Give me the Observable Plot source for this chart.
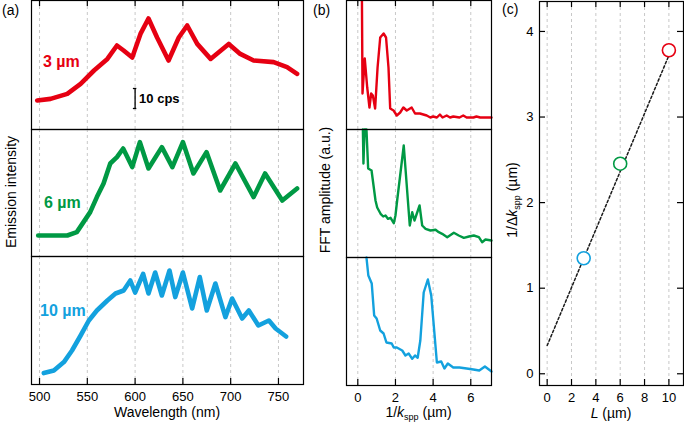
<!DOCTYPE html>
<html><head><meta charset="utf-8">
<script src="https://cdn.jsdelivr.net/npm/d3@7"></script>
<script src="https://cdn.jsdelivr.net/npm/@observablehq/plot@0.6"></script>
<style>
html,body{margin:0;padding:0;background:#fff;}
#chart{position:relative;width:684px;height:424px;overflow:hidden;font-family:"Liberation Sans",Arial,sans-serif;}
</style></head><body><div id="chart"></div>
<script>
// ---------- data: panel (a) emission spectra (cps, offset per panel) ----------
const spec3_wl  = [497.6, 511.5, 529, 543, 557, 571, 581, 588, 597, 605.6, 614, 623, 635, 645.7, 654.5, 665, 679, 698, 710, 724, 745, 759, 769.5];
const spec3_cps = [14.5, 15.3, 17.8, 22.8, 29.5, 35.3, 42, 39.5, 36, 47.8, 55.5, 46, 34.5, 46, 52, 42.8, 35.3, 42.8, 37.8, 34.5, 33.7, 31.2, 27.8];
const spec6_wl  = [498.6, 511, 529, 539, 546, 553, 560, 567, 574, 581, 587.5, 597, 605, 614, 628, 639, 650, 661, 674.7, 689, 705, 724, 736, 754, 769.5];
const spec6_cps = [10.5, 10.5, 10.5, 12.2, 17.2, 22.2, 29.7, 36.5, 46.5, 49.7, 54, 44.7, 57.2, 44, 54.7, 44.7, 57.2, 41.5, 52.2, 33, 46.5, 29.7, 41.5, 28, 34];
const spec10_wl  = [504.5, 515, 525.5, 534, 543, 551.6, 560, 571, 579.5, 588, 595, 600, 608.4, 614, 621, 628, 636, 642, 650, 659.7, 667.7, 675, 684, 694.5, 701.5, 712, 719, 729, 740, 747, 758];
const spec10_cps = [5.7, 7, 11.2, 17, 24.5, 32, 37, 42, 45.5, 47, 52, 46, 55.3, 45.5, 56, 44.5, 57, 43.7, 56, 38, 53.7, 37, 50.5, 33.7, 43, 33, 37, 29.5, 32, 28, 24];
const scaleBar = {x: 600, y0: 10.5, len: 10, label: "10 cps"};

// ---------- data: panel (b) FFT amplitude (a.u.) ----------
const fft3_x = [0.22, 0.25, 0.37, 0.5, 0.62, 0.71, 0.8, 0.92, 1.05, 1.19, 1.37, 1.5, 1.63, 1.72, 1.9, 2.07, 2.25, 2.42, 2.6, 2.86, 3.04, 3.3, 3.66, 3.85, 4.0, 4.2, 4.36, 4.5, 4.72, 4.9, 5.07, 5.4, 5.6, 5.78, 6.14, 6.3, 6.5, 6.95, 7.1];
const fft3_y = [140, 36, 71, 42, 22, 36, 34, 21, 62, 92, 96, 92, 62, 21, 19, 14, 17, 22, 19, 22, 16, 16, 14, 12, 13, 12, 15, 12, 14, 12, 13, 12, 14, 12, 12, 13, 12, 12, 12];
const fft6_x = [0.27, 0.30, 0.36, 0.46, 0.55, 0.73, 0.94, 1.03, 1.21, 1.35, 1.47, 1.6, 1.74, 1.91, 2.0, 2.09, 2.44, 2.66, 2.76, 2.89, 3.01, 3.28, 3.42, 3.6, 3.86, 4.13, 4.3, 4.48, 4.75, 5.1, 5.36, 5.63, 5.9, 6.16, 6.43, 6.6, 6.78, 7.1];
const fft6_y = [135, 94, 135, 135, 89, 87, 57, 50, 43.7, 41, 42, 38.7, 39.7, 34.3, 42, 57, 112, 57, 32, 45.3, 37, 52, 32, 28.7, 27, 27.7, 25.3, 23.7, 20.3, 24.7, 22, 19.7, 21, 22, 20.3, 15.3, 18, 17];
const fft10_x = [0.46, 0.56, 0.74, 0.87, 1.0, 1.19, 1.37, 1.52, 1.8, 1.91, 2.07, 2.36, 2.53, 2.7, 2.89, 3.04, 3.18, 3.32, 3.5, 3.72, 3.9, 4.07, 4.2, 4.43, 4.6, 4.78, 5.07, 5.4, 5.78, 6.14, 6.45, 6.75, 7.1];
const fft10_y = [135, 110, 102, 70, 67, 55, 52, 43, 42, 38, 38, 35, 30, 32, 26.7, 30, 27.7, 45, 93, 106, 90, 52, 23, 24, 17, 22, 18, 18, 17, 16, 15, 19, 14];

// ---------- data: panel (c) ----------
const L_um = [3, 6, 10];
const invDk = [1.35, 2.455, 3.78];
const fit_L = [0, 10];
const fit_y = [0.33, 3.72];

// ---------- ticks ----------
const aTicks = [500, 550, 600, 650, 700, 750];
const bTicks = [0, 2, 4, 6];
const cXTicks = [0, 2, 4, 6, 8, 10];
const cYTicks = [0, 1, 2, 3, 4];

// ---------- styling ----------
const FONT = '"Liberation Sans", Arial, sans-serif';
const RED = "#e60012", GREEN = "#009944", BLUE = "#13a1de";
const cColors = [BLUE, GREEN, RED];
const GRID = {stroke: "#c8c8c8", strokeWidth: 1, strokeDasharray: "3,3"};
const chart = document.getElementById("chart");
const zipXY = (xs, ys) => xs.map((x, i) => ({x, y: ys[i]}));
const fmt = d => String(d);

function panel({left, top, w, h, xDomain, yDomain, marks, mb = 1, ml = 1, clampY = false, xAxis = false, yAxis = false}) {
  const svg = Plot.plot({
    width: ml + w + 1, height: 1 + h + mb,
    marginTop: 1, marginRight: 1, marginBottom: mb, marginLeft: ml,
    x: xAxis ? {domain: xDomain} : {domain: xDomain, axis: null},
    y: yAxis ? {domain: yDomain, clamp: clampY} : {domain: yDomain, axis: null, clamp: clampY},
    color: {type: "identity"},
    style: {background: "none", overflow: "visible", fontFamily: FONT, fontSize: "13px", color: "black"},
    marks
  });
  svg.style.position = "absolute";
  svg.style.left = (left - ml) + "px";
  svg.style.top = (top - 1) + "px";
  chart.appendChild(svg);
}
const frame = () => Plot.frame({stroke: "#000", strokeWidth: 1.2});
const ticksBottom = (t, h) => Plot.tickX(t, {x: d => d, insetTop: h - 6, stroke: "#000", strokeWidth: 1.2});
const ticksTop = (t, h) => Plot.tickX(t, {x: d => d, insetBottom: h - 6, stroke: "#000", strokeWidth: 1.2});

// ---------- panel (a) ----------
const aX = [491.6, 776.2];
const specLine = (xs, ys, c) => Plot.line(zipXY(xs, ys), {x: "x", y: "y", stroke: c, strokeWidth: 4.6});
panel({left: 31, top: 0, w: 272, h: 129, xDomain: aX, yDomain: [0, 64.5], marks: [
  Plot.ruleX(aTicks, {x: d => d, ...GRID}),
  specLine(spec3_wl, spec3_cps, RED),
  Plot.ruleX([scaleBar], {x: "x", y1: "y0", y2: d => d.y0 + d.len, stroke: "#000", strokeWidth: 1.3}),
  Plot.ruleY([scaleBar.y0, scaleBar.y0 + scaleBar.len], {y: d => d, x1: scaleBar.x - 1.8, x2: scaleBar.x + 1.8, stroke: "#000", strokeWidth: 1.3}),
  Plot.text([scaleBar], {x: "x", y: d => d.y0 + d.len / 2, text: "label", textAnchor: "start", dx: 4, fontWeight: "bold", fontSize: 13, fill: "#000"}),
  ticksTop(aTicks, 129),
  frame()
]});
panel({left: 31, top: 129, w: 272, h: 127, xDomain: aX, yDomain: [0, 63.5], marks: [
  Plot.ruleX(aTicks, {x: d => d, ...GRID}),
  specLine(spec6_wl, spec6_cps, GREEN),
  frame()
]});
panel({left: 31, top: 256, w: 272, h: 128, xDomain: aX, yDomain: [0, 64], mb: 30, xAxis: true, marks: [
  Plot.ruleX(aTicks, {x: d => d, ...GRID}),
  specLine(spec10_wl, spec10_cps, BLUE),
  ticksBottom(aTicks, 128),
  Plot.axisX(aTicks, {anchor: "bottom", tickSize: 0, tickPadding: 7, label: null, fontSize: 13, tickFormat: fmt}),
  frame()
]});

// ---------- panel (b) ----------
const bX = [-0.6, 7.1];
const fftLine = (xs, ys, c) => Plot.line(zipXY(xs, ys), {x: "x", y: "y", stroke: c, strokeWidth: 2.4});
panel({left: 346, top: 0, w: 145, h: 129, xDomain: bX, yDomain: [0, 129], clampY: true, marks: [
  Plot.ruleX(bTicks, {x: d => d, ...GRID}),
  fftLine(fft3_x, fft3_y, RED),
  ticksTop(bTicks, 129),
  frame()
]});
panel({left: 346, top: 129, w: 145, h: 128, xDomain: bX, yDomain: [0, 128], clampY: true, marks: [
  Plot.ruleX(bTicks, {x: d => d, ...GRID}),
  fftLine(fft6_x, fft6_y, GREEN),
  frame()
]});
panel({left: 346, top: 257, w: 145, h: 128, xDomain: bX, yDomain: [0, 128], clampY: true, mb: 30, xAxis: true, marks: [
  Plot.ruleX(bTicks, {x: d => d, ...GRID}),
  fftLine(fft10_x, fft10_y, BLUE),
  ticksBottom(bTicks, 128),
  Plot.axisX(bTicks, {anchor: "bottom", tickSize: 0, tickPadding: 7, label: null, fontSize: 13, tickFormat: fmt}),
  frame()
]});

// ---------- panel (c) ----------
const cW = 144, cH = 384;
const cPoints = L_um.map((L, i) => ({L, v: invDk[i], c: cColors[i]}));
panel({left: 539, top: 1, w: cW, h: cH, ml: 40, mb: 30, xAxis: true, yAxis: true,
  xDomain: [-0.63, 11.2], yDomain: [-0.137, 4.35], marks: [
  Plot.ruleX(cXTicks, {x: d => d, ...GRID}),
  Plot.line(zipXY(fit_L, fit_y), {x: "x", y: "y", stroke: "#1a1a1a", strokeWidth: 1.5, strokeDasharray: "2.5,2.2"}),
  Plot.dot(cPoints, {x: "L", y: "v", r: 6.5, stroke: "c", strokeWidth: 1.6, fill: "white"}),
  ticksBottom(cXTicks, cH),
  ticksTop(cXTicks, cH),
  Plot.tickY(cYTicks, {y: d => d, insetRight: cW - 6, stroke: "#000", strokeWidth: 1.2}),
  Plot.tickY(cYTicks, {y: d => d, insetLeft: cW - 6, stroke: "#000", strokeWidth: 1.2}),
  Plot.axisX(cXTicks, {anchor: "bottom", tickSize: 0, tickPadding: 7, label: null, fontSize: 13, tickFormat: fmt}),
  Plot.axisY(cYTicks, {anchor: "left", tickSize: 0, tickPadding: 6, label: null, fontSize: 13, tickFormat: fmt}),
  frame()
]});

// ---------- text overlay ----------
const ov = d3.create("svg").attr("width", 684).attr("height", 424)
  .style("position", "absolute").style("left", "0px").style("top", "0px")
  .style("pointer-events", "none").style("font-family", FONT).style("overflow", "visible");
function txt(x, y, html, {size = 14, anchor = "start", weight = "normal", fill = "#000", rotate = 0} = {}) {
  ov.append("text")
    .attr("transform", `translate(${x},${y})` + (rotate ? ` rotate(${rotate})` : ""))
    .attr("text-anchor", anchor).attr("font-size", size).attr("font-weight", weight).attr("fill", fill)
    .html(html);
}
txt(2, 15, "(a)");
txt(313, 15, "(b)");
txt(502, 14, "(c)");
txt(43, 66.5, "3 µm", {size: 16, weight: "bold", fill: RED});
txt(44, 208, "6 µm", {size: 16, weight: "bold", fill: GREEN});
txt(40, 315.5, "10 µm", {size: 16, weight: "bold", fill: BLUE});
txt(16, 192, "Emission intensity", {anchor: "middle", rotate: -90});
txt(330, 190, "FFT amplitude (a.u.)", {anchor: "middle", rotate: -90});
txt(517, 200, '1/Δ<tspan font-style="italic">k</tspan><tspan font-size="9" dy="3">spp</tspan><tspan dy="-3"> (µm)</tspan>', {anchor: "middle", rotate: -90});
txt(167, 417, "Wavelength (nm)", {anchor: "middle"});
txt(418.5, 417, '1/<tspan font-style="italic">k</tspan><tspan font-size="9" dy="3">spp</tspan><tspan dy="-3"> (µm)</tspan>', {anchor: "middle"});
txt(611, 418, '<tspan font-style="italic">L</tspan> (µm)', {anchor: "middle"});
chart.appendChild(ov.node());
</script></body></html>
